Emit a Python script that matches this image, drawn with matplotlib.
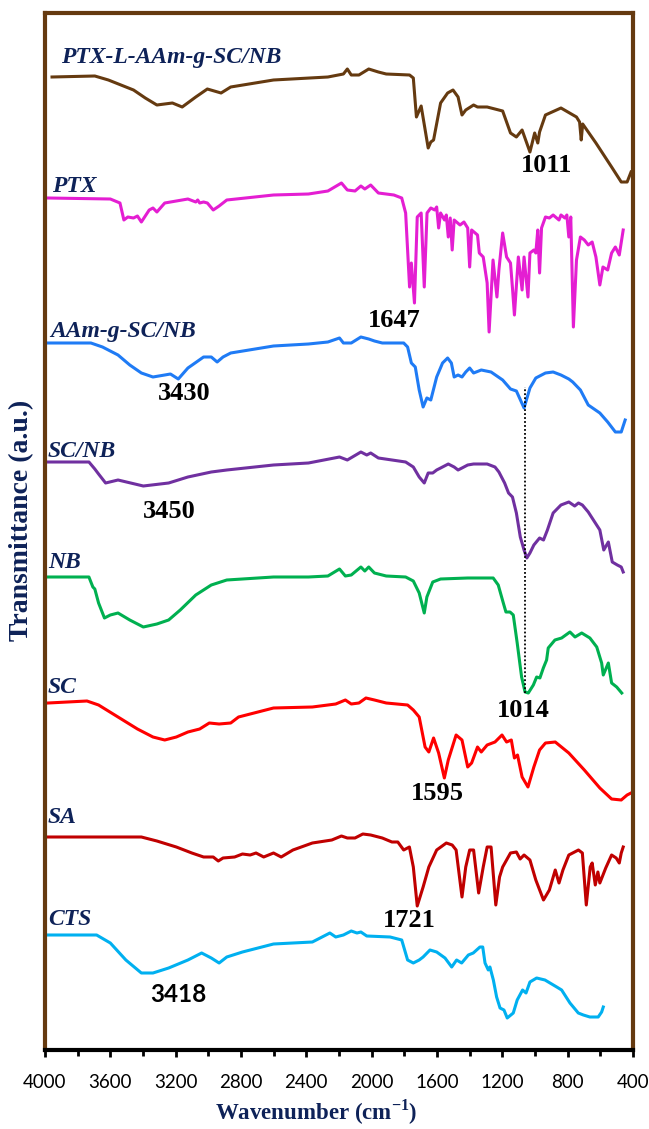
import matplotlib
matplotlib.use("Agg")
import matplotlib.pyplot as plt

# ---------------- data (wavenumber in cm-1, relative transmittance in a.u.) ----------------
wn_ptxl = [3957, 3695, 3612, 3458, 3386, 3315, 3220, 3160, 3077, 3006, 2922, 2863, 2601, 2268, 2173, 2149,
           2125, 2078, 2018, 1959, 1911, 1768, 1745, 1726, 1697, 1654, 1638, 1621, 1578, 1535, 1502, 1471,
           1447, 1424, 1376, 1352, 1293, 1198, 1150, 1114, 1079, 1031, 1002, 983, 972, 936, 841, 746, 727,
           717, 708, 627, 531, 472, 436, 412]
t_ptxl = [0, 1, -3, -13, -21, -28, -26, -30, -20, -12, -16, -10, -3, 0, 3, 8,
          2, 2, 8, 5, 3, 2, -1, -40, -29, -71, -65, -63, -26, -16, -13, -20,
          -38, -33, -28, -30, -30, -34, -56, -60, -53, -75, -56, -66, -55, -38, -31, -40, -45,
          -63, -47, -66, -90, -105, -105, -95]

wn_ptx = [3981, 3600, 3541, 3517, 3493, 3458, 3434, 3410, 3362, 3339, 3315, 3267, 3125, 3077, 3065, 3053,
          3029, 3006, 2970, 2934, 2887, 2601, 2387, 2268, 2185, 2149, 2102, 2066, 2042, 2006, 1959, 1864,
          1816, 1792, 1768, 1757, 1738, 1721, 1697, 1678, 1661, 1638, 1614, 1602, 1590, 1578, 1554, 1543,
          1531, 1519, 1507, 1495, 1459, 1435, 1412, 1400, 1388, 1352, 1341, 1317, 1293, 1281, 1257, 1233,
          1221, 1198, 1174, 1150, 1138, 1126, 1102, 1079, 1067, 1043, 1031, 1007, 995, 983, 972, 960,
          936, 912, 889, 853, 841, 817, 805, 793, 781, 765, 746, 722, 698, 674, 650, 627, 603, 584, 555,
          531, 508, 484, 460]
t_ptx = [0, -1, -5, -22, -19, -20, -18, -24, -12, -10, -14, -5, -1, -4, -2, -5,
         -4, -5, -12, -8, -2, 3, 4, 7, 15, 8, 7, 12, 9, 13, 5, 3,
         0, -15, -89, -65, -105, -19, -15, -89, -15, -10, -12, -9, -30, -15, -22, -17,
         -39, -20, -52, -22, -27, -24, -30, -69, -32, -37, -55, -59, -85, -134, -62, -99,
         -72, -35, -59, -65, -90, -117, -59, -92, -59, -99, -55, -52, -55, -32, -75, -30,
         -19, -20, -17, -22, -17, -20, -17, -39, -19, -129, -62, -39, -42, -47, -44, -59, -87, -69, -72,
         -55, -49, -57, -32]

wn_aam = [3981, 3719, 3648, 3553, 3481, 3410, 3339, 3267, 3232, 3184, 3125, 3029, 2982, 2946, 2910, 2863,
          2601, 2387, 2268, 2197, 2173, 2125, 2066, 2018, 1983, 1935, 1804, 1780, 1757, 1733, 1709, 1685,
          1662, 1638, 1602, 1566, 1535, 1512, 1495, 1471, 1447, 1424, 1400, 1376, 1329, 1269, 1198, 1150,
          1114, 1067, 1031, 995, 936, 889, 841, 793, 769, 722, 674, 603, 555, 508, 472, 448]
t_aam = [0, 0, -4, -12, -22, -30, -34, -32, -31, -36, -25, -14, -14, -19, -14, -10,
         -3, -1, 1, 5, 0, 0, 6, 4, 2, 0, 0, -4, -20, -24, -47, -64,
         -55, -57, -34, -20, -15, -20, -34, -32, -34, -29, -25, -30, -27, -29, -37, -46,
         -48, -65, -45, -35, -30, -29, -32, -36, -39, -47, -62, -70, -79, -89, -89, -77]

wn_scnb = [3981, 3731, 3695, 3672, 3629, 3553, 3398, 3243, 3125, 2982, 2887, 2601, 2387, 2197, 2149, 2066,
           2030, 2006, 1959, 1792, 1745, 1709, 1678, 1654, 1626, 1602, 1578, 1531, 1495, 1471, 1447, 1412,
           1376, 1293, 1245, 1221, 1186, 1162, 1138, 1114, 1090, 1067, 1050, 1031, 1007, 972, 948, 924,
           889, 841, 793, 757, 734, 710, 674, 603, 579, 551, 527, 496, 472, 460]
t_scnb = [0, 0, -7, -12, -21, -18, -24, -21, -15, -10, -8, -3, -1, 5, 2, 10,
          7, 9, 4, 0, -5, -15, -21, -11, -11, -8, -6, -2, -5, -8, -6, -3,
          -2, -2, -5, -10, -21, -31, -35, -51, -75, -88, -96, -91, -83, -76, -78, -68,
          -51, -43, -40, -44, -41, -43, -50, -68, -88, -80, -100, -103, -105, -110]

wn_nb = [3981, 3731, 3707, 3695, 3672, 3636, 3600, 3553, 3481, 3398, 3315, 3243, 3172, 3077, 2982, 2887,
         2601, 2387, 2268, 2197, 2161, 2125, 2066, 2042, 2018, 1983, 1911, 1792, 1745, 1709, 1678, 1662,
         1626, 1578, 1412, 1256, 1225, 1194, 1178, 1153, 1133, 1109, 1082, 1061, 1041, 1010, 990, 970,
         949, 929, 919, 878, 837, 786, 755, 714, 664, 622, 592, 582, 551, 531, 500, 469]
t_nb = [0, 0, -10, -12, -26, -41, -38, -36, -43, -50, -47, -43, -33, -18, -8, -3,
        0, 0, 1, 8, 1, 2, 10, 6, 10, 4, 1, 0, -4, -16, -36, -20,
        -5, -2, -1, -1, -8, -26, -35, -35, -38, -66, -100, -115, -116, -108, -100, -101,
        -91, -83, -71, -63, -61, -55, -60, -56, -61, -70, -86, -98, -86, -106, -110, -116]

wn_sc = [3981, 3743, 3672, 3553, 3434, 3339, 3267, 3196, 3125, 3053, 2994, 2934, 2863, 2815, 2601, 2363,
         2220, 2161, 2125, 2078, 2035, 1983, 1911, 1780, 1745, 1709, 1673, 1650, 1621, 1590, 1555, 1531,
         1483, 1447, 1412, 1388, 1352, 1329, 1293, 1245, 1202, 1174, 1145, 1126, 1107, 1079, 1043, 1007,
         972, 936, 876, 793, 698, 603, 531, 472, 436, 412]
t_sc = [0, 2, -2, -14, -26, -34, -37, -34, -29, -26, -20, -21, -20, -14, -5, -4,
        -1, 3, -1, 0, 5, 3, 0, -2, -7, -14, -44, -49, -35, -50, -75, -57,
        -32, -37, -64, -60, -44, -49, -42, -39, -32, -39, -37, -55, -52, -74, -84, -64,
        -47, -40, -39, -50, -67, -85, -96, -97, -92, -90]

wn_sa = [3981, 3410, 3315, 3196, 3101, 3029, 2970, 2939, 2910, 2839, 2791, 2744, 2708, 2661, 2601, 2554,
         2482, 2363, 2244, 2185, 2149, 2102, 2054, 2006, 1935, 1876, 1840, 1804, 1769, 1745, 1721, 1685,
         1650, 1602, 1543, 1507, 1483, 1447, 1424, 1400, 1376, 1345, 1317, 1293, 1269, 1240, 1217, 1198,
         1150, 1114, 1091, 1067, 1031, 995, 948, 912, 876, 853, 829, 793, 734, 710, 686, 662, 650, 631,
         615, 603, 567, 531, 503, 484, 472, 460]
t_sa = [0, 0, -4, -10, -16, -20, -20, -24, -21, -20, -17, -18, -16, -20, -16, -20,
        -13, -6, -3, 1, -1, -1, 3, 2, -1, -5, -5, -13, -10, -30, -69, -50,
        -30, -13, -6, -8, -13, -60, -30, -13, -13, -56, -30, -10, -10, -68, -40, -30,
        -16, -15, -22, -18, -23, -43, -63, -53, -33, -46, -33, -18, -13, -16, -68, -30, -26, -48,
        -35, -46, -31, -18, -21, -26, -16, -10]

wn_cts = [3981, 3684, 3600, 3505, 3410, 3339, 3243, 3125, 3041, 2982, 2934, 2887, 2791, 2601, 2363, 2256,
          2220, 2173, 2125, 2090, 2066, 2030, 1887, 1816, 1780, 1745, 1709, 1685, 1643, 1602, 1551, 1510,
          1480, 1449, 1408, 1378, 1337, 1320, 1306, 1286, 1276, 1255, 1235, 1214, 1190, 1170, 1133, 1109,
          1076, 1055, 1031, 990, 939, 867, 837, 786, 735, 704, 664, 613, 592, 582]
t_cts = [0, 0, -8, -25, -38, -38, -33, -25, -18, -23, -28, -22, -17, -9, -7, 2,
         -2, 0, 4, 2, 3, -1, -2, -5, -25, -28, -25, -22, -15, -17, -23, -32,
         -25, -28, -20, -18, -12, -12, -28, -35, -32, -45, -62, -73, -75, -83, -78, -65,
         -55, -58, -47, -43, -45, -52, -55, -68, -78, -80, -82, -82, -77, -72]

names = ["PTX-L-AAm-g-SC/NB", "PTX", "AAm-g-SC/NB", "SC/NB", "NB", "SC", "SA", "CTS"]
wns = [wn_ptxl, wn_ptx, wn_aam, wn_scnb, wn_nb, wn_sc, wn_sa, wn_cts]
ts = [t_ptxl, t_ptx, t_aam, t_scnb, t_nb, t_sc, t_sa, t_cts]

peak_labels = ["1011", "1647", "3430", "3450", "1014", "1595", "1721", "3418"]
xtick_vals = list(range(4000, 399, -400))

# ---------------- layout / style ----------------
offsets = [1023, 902, 757, 638, 523, 397, 263, 165]
colors = ["#653A10", "#E41ED2", "#1F7BF5", "#7030A0", "#00B050", "#FF0000", "#C00000", "#00B0F0"]
name_pos = [(3902, 1037), (3957, 908), (3969, 763), (3982, 643), (3982, 532), (3982, 407), (3982, 277), (3982, 175)]
peak_pos = [(931, 928), (1864, 773), (3148, 700), (3239, 582), (1074, 383), (1597, 300), (1769, 173), (3184, 98)]

navy = "#0E2258"
brown = "#653A10"
serif = "Liberation Serif"

plt.rcParams["mathtext.fontset"] = "custom"
plt.rcParams["mathtext.rm"] = "Liberation Serif"
plt.rcParams["mathtext.bf"] = "Liberation Serif:bold"

W, H = 649, 1129
fig = plt.figure(figsize=(W / 100, H / 100), dpi=100)
ax = fig.add_axes([45 / W, 79 / H, 588 / W, 1037 / H])

for wn, t, off, c in zip(wns, ts, offsets, colors):
    ax.plot(wn, [off + v for v in t], color=c, lw=2.2, solid_joinstyle="round")

# dotted guide line
ax.plot([1061, 1061], [407, 713], color="black", lw=1.3, ls=(0, (1, 1.2)))

for nm, (x, y) in zip(names, name_pos):
    ax.text(x, y, nm, fontfamily=serif, fontweight="bold", fontstyle="italic",
            fontsize=17, color=navy, ha="left", va="baseline")

for lab, (x, y) in zip(peak_labels, peak_pos):
    if lab == "3418":
        ax.text(x, y, lab, fontfamily="Lato", fontweight="bold", fontsize=17.5,
                color="black", ha="center", va="baseline")
    else:
        ax.text(x, y, lab, fontfamily=serif, fontweight="bold", fontsize=19,
                color="black", ha="center", va="baseline")

ax.set_xlim(4000, 400)
ax.set_ylim(50, 1087)
ax.set_yticks([])
ax.set_xticks(xtick_vals)
ax.set_xticklabels([str(v) for v in xtick_vals], fontfamily="Lato", fontsize=13.5)
ax.set_xticks(list(range(3800, 399, -400)), minor=True)
ax.tick_params(axis="x", which="major", direction="out", length=5, width=2, pad=12, color="black")
ax.tick_params(axis="x", which="minor", direction="out", length=4.5, width=2, color="black")

for side in ["left", "right", "top"]:
    ax.spines[side].set_color(brown)
    ax.spines[side].set_linewidth(3)
ax.spines["bottom"].set_color("black")
ax.spines["bottom"].set_linewidth(3)

fig.text(316 / W, 1 - 1112 / H, "Wavenumber (cm$^{\\mathbf{-1}}$)", fontfamily=serif,
         fontweight="bold", fontsize=16.5, color=navy, ha="center", va="center")
fig.text(22 / W, 1 - 520 / H, "Transmittance (a.u.)", fontfamily=serif, fontweight="bold",
         fontsize=20, color=navy, ha="center", va="center", rotation=90)

fig.savefig("out.png", dpi=100)
